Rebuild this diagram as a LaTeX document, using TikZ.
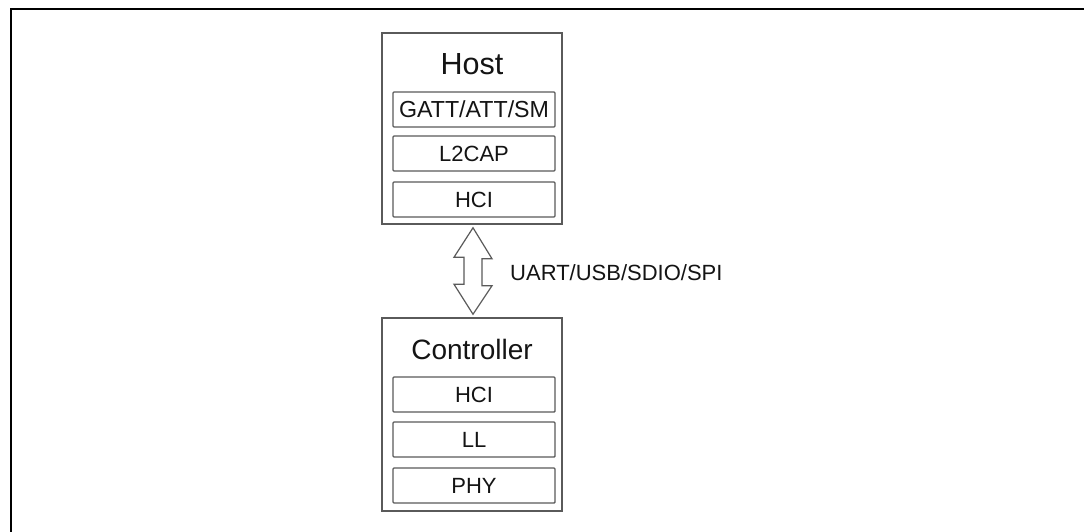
\documentclass[tikz,border=0pt]{standalone}
\usepackage{fontspec}
\setmainfont{Liberation Sans}
\usetikzlibrary{calc}
\definecolor{boxline}{HTML}{5A5A5A}
\definecolor{txt}{HTML}{141414}
\tikzset{
  outerbox/.style={draw=boxline, line width=1.5pt, minimum width=180pt, inner sep=0pt},
  layerbox/.style={draw=boxline, line width=1.4pt, rounded corners=1pt, minimum width=162pt, minimum height=35pt, inner sep=0pt, text=txt, font=\fontsize{22}{24}\selectfont},
  titletext/.style={text=txt, inner sep=0pt, font=\fontsize{29}{32}\selectfont},
  labeltext/.style={text=txt, inner sep=0pt, font=\fontsize{22}{24}\selectfont},
  bus/.style={draw=boxline, line width=1.2pt, fill=white, line join=miter}
}
\begin{document}
\begin{tikzpicture}[x=1pt,y=-1pt]
\useasboundingbox (0,0) rectangle (1084,532);
\fill[white] (0,0) rectangle (1084,532);
% outer frame (partially visible)
\draw[black, line width=2pt] (11,540) -- (11,9) -- (1090,9);
% Host
\node[outerbox, minimum height=191pt] (host) at (472,128.5) {};
\node[titletext, font=\fontsize{30.5}{32}\selectfont] (hostt) at (472,64) {Host};
\node[layerbox, font=\fontsize{23.2}{25}\selectfont] (gatt) at (474,109.5) {GATT/ATT/SM};
\node[layerbox] (l2cap) at (474,153.5) {L2CAP};
\node[layerbox] (hcih) at (474,199.5) {HCI};
% Controller
\node[outerbox, minimum height=193pt] (ctrl) at (472,414.5) {};
\node[titletext, font=\fontsize{28}{30}\selectfont] (ctrlt) at (472,349) {Controller};
\node[layerbox] (hcic) at (474,394.5) {HCI};
\node[layerbox] (ll) at (474,439.5) {LL};
\node[layerbox] (phy) at (474,485.5) {PHY};
% double arrow between host and controller
\coordinate (top) at ($(host.south)+(1,3)$);
\coordinate (bot) at ($(ctrl.north)+(1,-3)$);
\draw[bus] (top) -- ++(19,31) -- ++(-10,0) -- ++(0,27) -- ++(10,0) -- (bot)
  -- ++(-19,-30) -- ++(10,0) -- ++(0,-27) -- ++(-10,0) -- cycle;
\node[labeltext, anchor=west] (bus) at (510,273) {UART/USB/SDIO/SPI};
\end{tikzpicture}
\end{document}
